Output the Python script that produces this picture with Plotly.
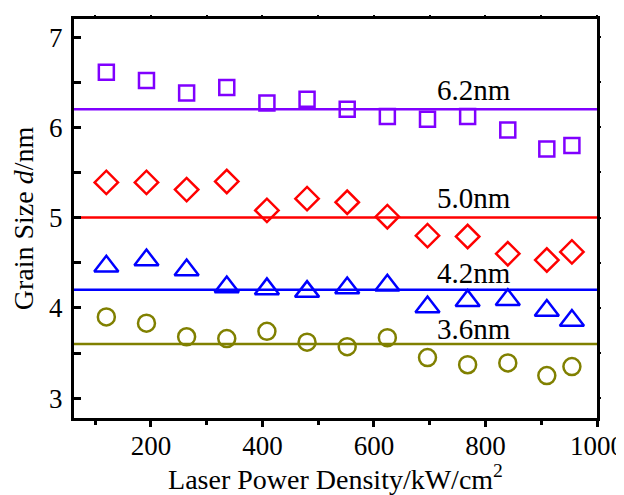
import plotly.graph_objects as go

power = [120, 192, 264, 336, 408, 480, 552, 624, 696, 768, 840, 910, 955]
size_purple = [6.61, 6.52, 6.38, 6.44, 6.27, 6.31, 6.20, 6.12, 6.09, 6.12, 5.97, 5.76, 5.80]
size_red = [5.39, 5.39, 5.31, 5.40, 5.08, 5.21, 5.17, 5.01, 4.80, 4.79, 4.60, 4.53, 4.62]
size_blue = [4.46, 4.53, 4.42, 4.23, 4.21, 4.18, 4.22, 4.25, 4.01, 4.08, 4.09, 3.97, 3.86]
size_olive = [3.90, 3.83, 3.68, 3.66, 3.74, 3.62, 3.57, 3.67, 3.45, 3.37, 3.39, 3.25, 3.35]
mean_values = [6.2, 5.0, 4.2, 3.6]
mean_labels = ["6.2nm", "5.0nm", "4.2nm", "3.6nm"]
label_y = [6.41, 5.22, 4.39, 3.77]
label_x = 780

colors = ["#8000FF", "#FF0000", "#0000FF", "#808000"]
symbols = ["square-open", "diamond-open", "triangle-up-open", "circle-open"]
msizes = [15, 18, 21, 17]
series = [size_purple, size_red, size_blue, size_olive]

xr = [62, 1000]
yr = [2.78, 7.2]
font = "Liberation Serif, Times New Roman, serif"

fig = go.Figure()
for ys, c, s, ms, m in zip(series, colors, symbols, msizes, mean_values):
    fig.add_trace(go.Scatter(x=xr, y=[m, m], mode="lines",
                             line=dict(color=c, width=2.5), showlegend=False,
                             hoverinfo="skip"))
    fig.add_trace(go.Scatter(x=power, y=ys, mode="markers",
                             marker=dict(symbol=s, size=ms, color=c,
                                         line=dict(color=c, width=2.5)),
                             showlegend=False))

for lbl, ly in zip(mean_labels, label_y):
    fig.add_annotation(x=label_x, y=ly, text=lbl, showarrow=False,
                       font=dict(family=font, size=29, color="black"))

# invisible traces for the mirrored (top / right) tick axes
fig.add_trace(go.Scatter(x=[None], y=[None], yaxis="y2", showlegend=False))
fig.add_trace(go.Scatter(x=[None], y=[None], xaxis="x2", showlegend=False))

fig.update_layout(
    width=616, height=487,
    margin=dict(l=66, r=27, t=8, b=77),
    paper_bgcolor="white", plot_bgcolor="white",
    font=dict(family=font, size=28, color="black"),
    xaxis=dict(range=xr, showgrid=False, zeroline=False, automargin=False,
               showline=True, linecolor="black", linewidth=3, mirror=True,
               ticks="outside", ticklen=6, tickwidth=2.5, tickcolor="black",
               tickvals=[200, 400, 600, 800, 1000], ticklabelstandoff=-4,
               minor=dict(tickvals=[100, 300, 500, 700, 900], ticks="outside",
                          ticklen=4, tickwidth=2.5, tickcolor="black"),
               tickfont=dict(size=27),
               title=dict(text="Laser Power Density/kW/cm<sup>2</sup>",
                          font=dict(size=28), standoff=12)),
    xaxis2=dict(range=xr, overlaying="x", side="top", showgrid=False,
                zeroline=False, showline=False, showticklabels=False,
                ticks="outside", ticklen=3, tickwidth=2, tickcolor="black",
                tickvals=[100, 200, 300, 400, 500, 600, 700, 800, 900, 1000]),
    yaxis=dict(range=yr, showgrid=False, zeroline=False, automargin=False,
               showline=True, linecolor="black", linewidth=3, mirror=True,
               ticks="inside", ticklen=7, tickwidth=2.5, tickcolor="black",
               tickvals=[3, 4, 5, 6, 7], ticklabelstandoff=3,
               minor=dict(tickvals=[3.5, 4.5, 5.5, 6.5], ticks="inside",
                          ticklen=7, tickwidth=2.5, tickcolor="black"),
               tickfont=dict(size=27),
               title=dict(text="Grain Size <i>d</i>/nm", font=dict(size=28),
                          standoff=18)),
    yaxis2=dict(range=yr, overlaying="y", side="right", showgrid=False,
                zeroline=False, showline=False, showticklabels=False,
                ticks="outside", ticklen=3, tickwidth=2, tickcolor="black",
                tickvals=[3, 3.5, 4, 4.5, 5, 5.5, 6, 6.5, 7]),
)

fig.write_html("out.html")
